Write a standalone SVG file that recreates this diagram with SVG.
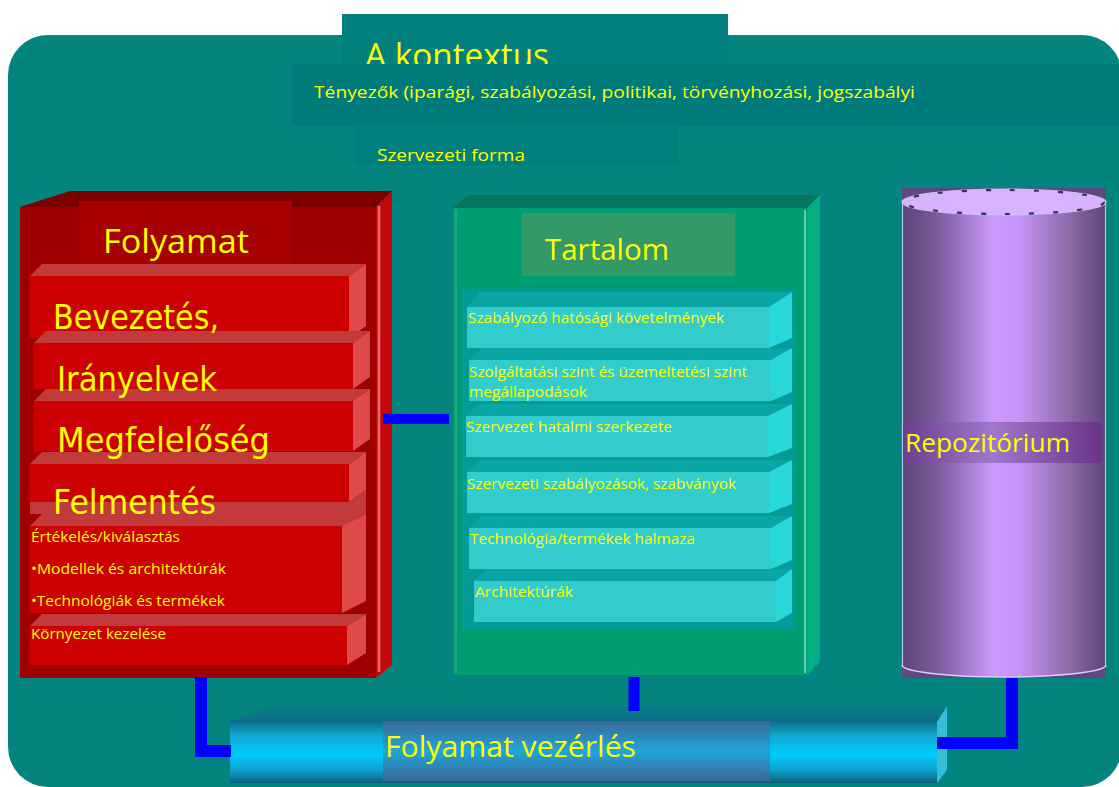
<svg xmlns="http://www.w3.org/2000/svg" width="1119" height="787" viewBox="0 0 1119 787">
  <defs>
    <linearGradient id="cylBody" x1="0" y1="0" x2="1" y2="0">
      <stop offset="0" stop-color="#5a4578"/>
      <stop offset="0.18" stop-color="#7c5c9e"/>
      <stop offset="0.45" stop-color="#cc99ff"/>
      <stop offset="0.58" stop-color="#c493f5"/>
      <stop offset="0.85" stop-color="#86649f"/>
      <stop offset="1" stop-color="#5a4578"/>
    </linearGradient>
    <linearGradient id="cylLabel" x1="0" y1="0" x2="1" y2="0">
      <stop offset="0" stop-color="#6a3f8c"/>
      <stop offset="0.45" stop-color="#a078cc"/>
      <stop offset="1" stop-color="#6a3488"/>
    </linearGradient>
    <linearGradient id="tube" x1="0" y1="0" x2="0" y2="1">
      <stop offset="0" stop-color="#0b6a88"/>
      <stop offset="0.25" stop-color="#12a8d0"/>
      <stop offset="0.55" stop-color="#00ccff"/>
      <stop offset="0.8" stop-color="#10a0c8"/>
      <stop offset="1" stop-color="#0a5e7c"/>
    </linearGradient>
    <linearGradient id="tubeLabel" x1="0" y1="0" x2="0" y2="1">
      <stop offset="0" stop-color="#3a6898"/>
      <stop offset="0.5" stop-color="#1fa6d8"/>
      <stop offset="1" stop-color="#3a6898"/>
    </linearGradient>
    <linearGradient id="tubeTop" x1="0" y1="0" x2="0" y2="1">
      <stop offset="0" stop-color="#0a7d86"/>
      <stop offset="1" stop-color="#0a6c8c"/>
    </linearGradient>
  </defs>
  <style>
    .y { fill: #ffff00; font-family: "Open Sans", "Liberation Sans", sans-serif; }
    .big { fill: #ffff00; font-family: "DejaVu Sans", "Liberation Sans", sans-serif; }
    .rfront { fill: #cc0000; }
    .rtop { fill: #c23a3a; }
    .rside { fill: #de4a4a; }
    .cfront { fill: #33cccc; }
    .ctop { fill: #0aa6a6; }
    .cside { fill: #26d8d8; }
    .link { fill: none; stroke: #0000ff; stroke-linejoin: miter; stroke-linecap: butt; }
  </style>

  <!-- page background -->
  <rect x="0" y="0" width="1119" height="787" fill="#ffffff"/>
  <rect x="8" y="35" width="1114" height="752" rx="40" ry="40" fill="#03847f"/>

  <!-- context header -->
  <g id="context">
    <rect x="342" y="14" width="386" height="52" fill="#007f7d"/>
    <text class="y" x="365" y="68" font-size="34" textLength="184" lengthAdjust="spacingAndGlyphs">A kontextus</text>
    <rect x="292" y="64" width="830" height="62" fill="#007b7b"/>
    <text class="y" x="314" y="98" font-size="17" textLength="601" lengthAdjust="spacingAndGlyphs">Tényezők (iparági, szabályozási, politikai, törvényhozási, jogszabályi</text>
    <rect x="355" y="126" width="323" height="39" fill="#007f7d"/>
    <text class="y" x="377" y="161" font-size="17" textLength="148" lengthAdjust="spacingAndGlyphs">Szervezeti forma</text>
  </g>

  <!-- process cabinet -->
  <g id="folyamat">
    <polygon points="20,207 70,191 392,191 376,207" fill="#7c0000"/>
    <rect x="20" y="207" width="356" height="471" fill="#9e0000"/>
    <polygon points="376,207 392,191 392,665 376,678" fill="#c40808"/>
    <line x1="379" y1="206" x2="379" y2="672" stroke="#e86a6a" stroke-width="2.5"/>
    <rect x="79" y="201" width="213" height="62" fill="#a60000"/>
    <text class="y" x="103" y="253" font-size="32" textLength="146" lengthAdjust="spacingAndGlyphs">Folyamat</text>

    <g id="d-bevezetes">
      <polygon class="rtop" points="30,276 42,264 366,264 349,276"/>
      <rect class="rfront" x="30" y="276" width="319" height="62"/>
      <polygon class="rside" points="349,276 366,264 366,326 349,338"/>
    </g>
    <g id="d-iranyelvek">
      <polygon class="rtop" points="34,343 46,331 370,331 353,343"/>
      <rect class="rfront" x="34" y="343" width="319" height="46"/>
      <polygon class="rside" points="353,343 370,331 370,377 353,389"/>
    </g>
    <g id="d-megfeleloseg">
      <polygon class="rtop" points="34,401 46,389 370,389 353,401"/>
      <rect class="rfront" x="34" y="401" width="319" height="50"/>
      <polygon class="rside" points="353,401 370,389 370,439 353,451"/>
    </g>
    <g id="d-felmentes">
      <polygon class="rtop" points="30,464 42,452 366,452 349,464"/>
      <rect class="rfront" x="30" y="464" width="319" height="38"/>
      <polygon class="rside" points="349,464 366,452 366,490 349,502"/>
      <polygon class="rtop" points="30,502 349,502 366,490 366,514 30,514"/>
    </g>
    <g id="d-ertekeles">
      <polygon class="rtop" points="30,526 42,514 366,514 342,526"/>
      <rect class="rfront" x="30" y="526" width="312" height="87"/>
      <polygon class="rside" points="342,526 366,514 366,601 342,613"/>
    </g>
    <g id="d-kornyezet">
      <polygon class="rtop" points="30,626 42,614 366,614 347,626"/>
      <rect class="rfront" x="30" y="626" width="317" height="39"/>
      <polygon class="rside" points="347,626 366,614 366,653 347,665"/>
    </g>

    <text class="big" x="53" y="329" font-size="34" textLength="166" lengthAdjust="spacingAndGlyphs">Bevezetés,</text>
    <text class="big" x="57" y="391" font-size="34" textLength="160" lengthAdjust="spacingAndGlyphs">Irányelvek</text>
    <text class="big" x="57" y="452" font-size="34" textLength="213" lengthAdjust="spacingAndGlyphs">Megfelelőség</text>
    <text class="big" x="53" y="514" font-size="34" textLength="163" lengthAdjust="spacingAndGlyphs">Felmentés</text>
    <text class="y" x="31" y="542" font-size="15" textLength="149" lengthAdjust="spacingAndGlyphs">Értékelés/kiválasztás</text>
    <text class="y" x="31" y="574" font-size="15" textLength="195" lengthAdjust="spacingAndGlyphs">•Modellek és architektúrák</text>
    <text class="y" x="31" y="606" font-size="15" textLength="194" lengthAdjust="spacingAndGlyphs">•Technológiák és termékek</text>
    <text class="y" x="31" y="639" font-size="15" textLength="135" lengthAdjust="spacingAndGlyphs">Környezet kezelése</text>
  </g>

  <!-- content cabinet -->
  <g id="tartalom">
    <polygon points="453,208 468,195 820,195 807,208" fill="#05765e"/>
    <rect x="453" y="208" width="354" height="467" fill="#009c72"/>
    <line x1="456" y1="210" x2="456" y2="673" stroke="#22a886" stroke-width="2"/>
    <polygon points="807,208 820,195 820,662 807,675" fill="#00b084"/>
    <line x1="805" y1="210" x2="805" y2="673" stroke="#5ed2b4" stroke-width="2"/>
    <rect x="462" y="290" width="334" height="340" fill="#049a96"/>
    <rect x="522" y="213" width="213" height="63" fill="#339966"/>
    <text class="y" x="545" y="260" font-size="30" textLength="124" lengthAdjust="spacingAndGlyphs">Tartalom</text>

    <g id="c-szabalyozo">
      <polygon class="ctop" points="467,307 480,292 792,292 769,307"/>
      <rect class="cfront" x="467" y="307" width="302" height="41"/>
      <polygon class="cside" points="769,307 792,292 792,338 769,348"/>
    </g>
    <g id="c-szolgaltatasi">
      <polygon class="ctop" points="469,360 482,348 792,348 771,360"/>
      <rect class="cfront" x="469" y="360" width="302" height="41"/>
      <polygon class="cside" points="771,360 792,348 792,392 771,401"/>
    </g>
    <g id="c-hatalmi">
      <polygon class="ctop" points="466,416 479,404 792,404 768,416"/>
      <rect class="cfront" x="466" y="416" width="302" height="41"/>
      <polygon class="cside" points="768,416 792,404 792,448 768,457"/>
    </g>
    <g id="c-szabvanyok">
      <polygon class="ctop" points="467,472 480,460 792,460 769,472"/>
      <rect class="cfront" x="467" y="472" width="302" height="41"/>
      <polygon class="cside" points="769,472 792,460 792,504 769,513"/>
    </g>
    <g id="c-technologia">
      <polygon class="ctop" points="469,528 482,516 792,516 771,528"/>
      <rect class="cfront" x="469" y="528" width="302" height="41"/>
      <polygon class="cside" points="771,528 792,516 792,560 771,569"/>
    </g>
    <g id="c-architekturak">
      <polygon class="ctop" points="474,581 487,569 792,569 776,581"/>
      <rect class="cfront" x="474" y="581" width="302" height="41"/>
      <polygon class="cside" points="776,581 792,569 792,613 776,622"/>
    </g>

    <text class="y" x="468" y="323" font-size="14" textLength="256" lengthAdjust="spacingAndGlyphs">Szabályozó hatósági követelmények</text>
    <text class="y" x="469" y="377" font-size="14" textLength="278" lengthAdjust="spacingAndGlyphs">Szolgáltatási szint és üzemeltetési szint</text>
    <text class="y" x="469" y="397" font-size="14" textLength="118" lengthAdjust="spacingAndGlyphs">megállapodások</text>
    <text class="y" x="466" y="432" font-size="14" textLength="206" lengthAdjust="spacingAndGlyphs">Szervezet hatalmi szerkezete</text>
    <text class="y" x="467" y="489" font-size="14" textLength="269" lengthAdjust="spacingAndGlyphs">Szervezeti szabályozások, szabványok</text>
    <text class="y" x="470" y="544" font-size="14" textLength="225" lengthAdjust="spacingAndGlyphs">Technológia/termékek halmaza</text>
    <text class="y" x="475" y="597" font-size="14" textLength="98" lengthAdjust="spacingAndGlyphs">Architektúrák</text>
  </g>

  <!-- repository cylinder -->
  <g id="repozitorium">
    <rect x="902" y="188" width="204" height="26" fill="#5e4880"/>
    <rect x="902" y="652" width="204" height="26" fill="#5e4880"/>
    <rect x="902" y="202" width="204" height="463" fill="url(#cylBody)"/>
    <ellipse cx="1004" cy="665" rx="102" ry="12" fill="url(#cylBody)"/>
    <path d="M902,665 A102,12 0 0 0 1106,665" fill="none" stroke="#e0ccff" stroke-width="1.5"/>
    <line x1="902.5" y1="202" x2="902.5" y2="665" stroke="#b8c4ee" stroke-width="1.2"/>
    <line x1="1105.5" y1="202" x2="1105.5" y2="665" stroke="#b8c4ee" stroke-width="1.2"/>
    <ellipse cx="1004" cy="202" rx="102" ry="13" fill="#d8b2ff" stroke="#c8c0f0" stroke-width="1.2"/>
    <ellipse cx="1004" cy="202" rx="100" ry="12" fill="none" stroke="#3e2e5a" stroke-width="2.2" stroke-dasharray="5 19"/>
    <rect x="903" y="422" width="198" height="41" fill="url(#cylLabel)"/>
    <text class="y" x="905" y="452" font-size="26" textLength="165" lengthAdjust="spacingAndGlyphs">Repozitórium</text>
  </g>

  <!-- process control tube -->
  <g id="folyamat-vezerles">
    <polygon points="230,722 272,706 947,706 937,722" fill="url(#tubeTop)"/>
    <rect x="230" y="720" width="707" height="63" fill="url(#tube)"/>
    <polygon points="937,722 947,706 947,770 937,783" fill="#38bcdc"/>
    <rect x="383" y="721" width="387" height="60" fill="url(#tubeLabel)"/>
    <text class="y" x="385" y="757" font-size="30" textLength="251" lengthAdjust="spacingAndGlyphs">Folyamat vezérlés</text>
  </g>

  <!-- connectors -->
  <g id="connectors">
    <path class="link" d="M201,677 V751 H231" stroke-width="12"/>
    <path class="link" d="M383,419 H449" stroke-width="10"/>
    <path class="link" d="M634,677 V711" stroke-width="11"/>
    <path class="link" d="M1012,678 V743 H937" stroke-width="12"/>
  </g>
</svg>
